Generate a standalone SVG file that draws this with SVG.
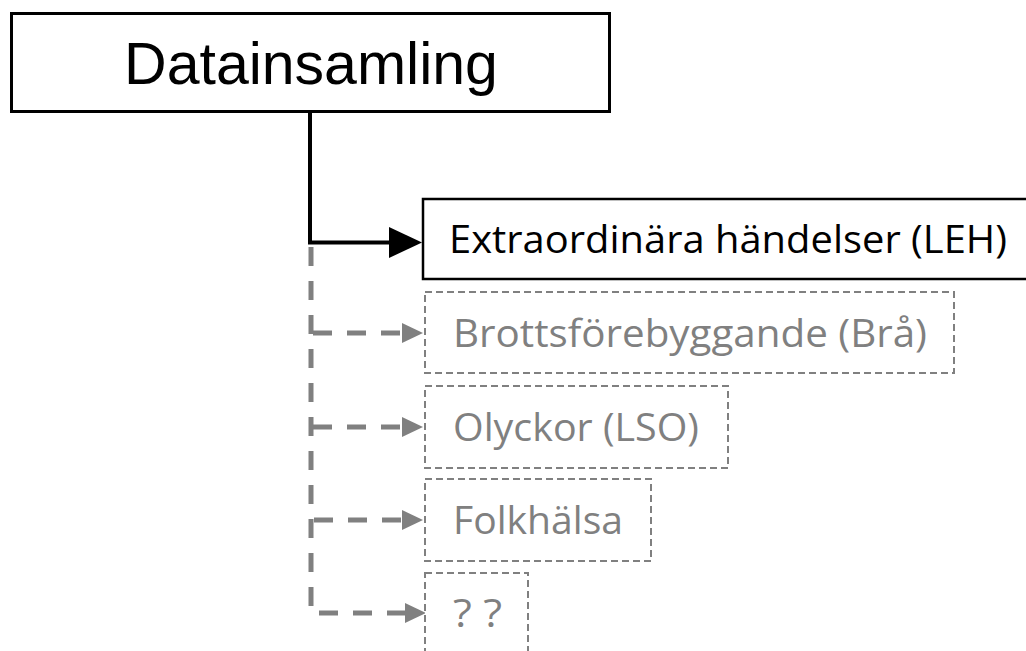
<svg xmlns="http://www.w3.org/2000/svg" width="1026" height="651" viewBox="0 0 1026 651">
<style>
.main{fill:#fff;stroke:#000;stroke-width:3}
.leh{fill:#fff;stroke:#000;stroke-width:2.5}
.opt{fill:#fff;stroke:#808080;stroke-width:2;stroke-dasharray:7 4}
.t1{font-family:"Liberation Sans",Arial,sans-serif;font-size:59px;fill:#000}
.t2{font-family:"Open Sans","Noto Sans",sans-serif;font-size:39px}
.blk{fill:#000}
.gry{fill:#808080}
.solid{fill:none;stroke:#000;stroke-width:4}
.dash{fill:none;stroke:#808080;stroke-width:5;stroke-dasharray:19 15}
</style>
<rect width="1026" height="651" fill="#fff"/>
<g id="connectors">
<path class="solid" d="M310,112 V242.5 H392"/>
<polygon class="blk" points="389,227 422,242.5 389,258"/>
<path class="dash" d="M311,247 V613 H405"/>
<line class="dash" x1="313" y1="333" x2="402" y2="333"/>
<line class="dash" x1="313" y1="427" x2="402" y2="427"/>
<line class="dash" x1="314" y1="520" x2="402" y2="520"/>
<polygon class="gry" points="402,323 423,333 402,343"/>
<polygon class="gry" points="402,417 423,427 402,437"/>
<polygon class="gry" points="402,510 423,520 402,530"/>
<polygon class="gry" points="405,603 426,613 405,623"/>
</g>
<g id="node-datainsamling">
<rect class="main" x="11.5" y="13.5" width="598" height="98"/>
<text class="t1" x="311" y="84" text-anchor="middle">Datainsamling</text>
</g>
<g id="node-leh">
<rect class="leh" x="423" y="199" width="610" height="80"/>
<text class="t2 blk" x="449" y="253" textLength="558" lengthAdjust="spacingAndGlyphs">Extraordinära händelser (LEH)</text>
</g>
<g id="node-bra">
<rect class="opt" x="425" y="292" width="529" height="81"/>
<text class="t2 gry" x="453" y="347" textLength="474" lengthAdjust="spacingAndGlyphs">Brottsförebyggande (Brå)</text>
</g>
<g id="node-lso">
<rect class="opt" x="425" y="386" width="303" height="82"/>
<text class="t2 gry" x="453" y="441" textLength="246" lengthAdjust="spacingAndGlyphs">Olyckor (LSO)</text>
</g>
<g id="node-folkhalsa">
<rect class="opt" x="425" y="479" width="226" height="82"/>
<text class="t2 gry" x="453" y="534" textLength="170" lengthAdjust="spacingAndGlyphs">Folkhälsa</text>
</g>
<g id="node-unknown">
<rect class="opt" x="425" y="573" width="103" height="92"/>
<text class="t2 gry" x="453" y="627" textLength="49" lengthAdjust="spacingAndGlyphs">? ?</text>
</g>
</svg>
